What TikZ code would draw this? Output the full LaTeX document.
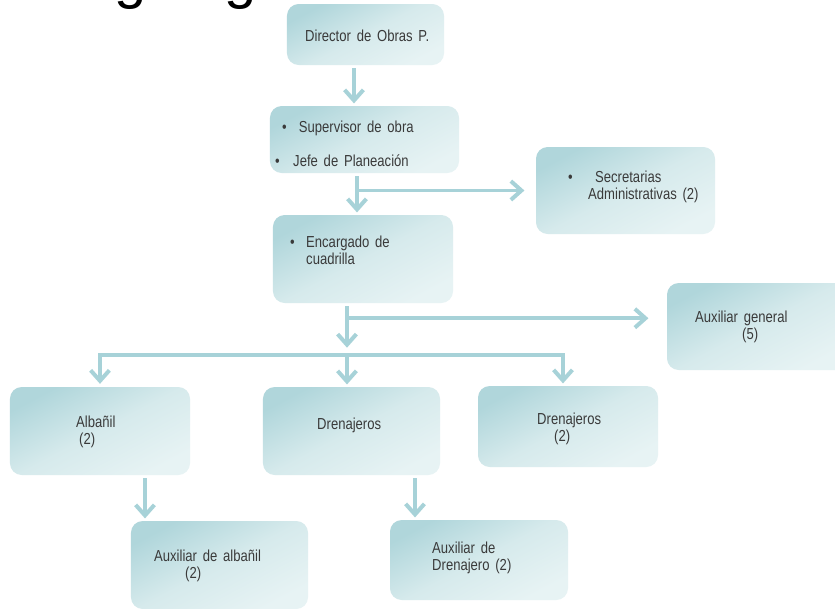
\documentclass[tikz,border=0pt]{standalone}
\usepackage{fontspec}
\setmainfont{Liberation Sans}[FakeStretch=0.82, WordSpace=1.6]
\newfontfamily\titlefont{Liberation Sans}
\usepackage{tikz}
\usetikzlibrary{arrows.meta, calc}
\definecolor{boxdark}{HTML}{B0D6DB}
\definecolor{boxmid}{HTML}{D6EAEC}
\definecolor{boxlight}{HTML}{E7F3F4}
\definecolor{linkcol}{HTML}{A7D2D8}
\definecolor{txtgray}{HTML}{3A3A3A}

\begin{document}
\begin{tikzpicture}[
        x=0.03cm, y=-0.03cm,
        barb/.tip={Straight Barb[length=9pt, width=16pt]},
        box/.style={rectangle, rounded corners=10pt, top color=boxdark, bottom color=boxlight, middle color=boxmid, shading angle=28, inner sep=0pt},
        lbl/.style={anchor=west, inner sep=0pt, align=left, text=txtgray, font=\fontsize{13.6}{14.5}\selectfont},
        link/.style={draw=linkcol, line width=3.4pt, -barb, shorten <=2.5pt, shorten >=2pt}
    ]
    \useasboundingbox (0,0) rectangle (835,608);
    \clip (0,0) rectangle (835,608);
    \fill[white] (0,0) rectangle (835,608);

    % title, cut off at the top edge
    \node[anchor=base west, inner sep=0pt, font=\titlefont\fontsize{49.5}{50}\selectfont] (title) at (50,-3) {Organigrama};

    \foreach \name/\x/\y/\w/\h in {dir/365.5/34.5/4.71/1.83, sup/364.5/139.5/5.67/2.01,
            sec/625.5/190.5/5.37/2.61, enc/363/259/5.4/2.64, aux/757/326.5/5.4/2.61,
            alb/100/431/5.4/2.64, dre/351.5/431/5.31/2.64, dre2/568/426.5/5.4/2.43,
            auxalb/219.5/565/5.31/2.64, auxdre/479/560/5.34/2.4} {
        \node[box, minimum width=\w cm, minimum height=\h cm] (\name) at (\x,\y) {};
    }

    \node[lbl] (dirl) at (305,36) {Director de Obras P.};
    \node[lbl] (supl) at (282,128) {\makebox[0.5cm][l]{•}Supervisor de obra};
    \node[lbl] (jefl) at (275,161) {\makebox[0.54cm][l]{•}Jefe de Planeación};
    \node[lbl] (secl) at (568,187) {\makebox[0.81cm][l]{•}Secretarias\\\hspace*{0.6cm}Administrativas (2)};
    \node[lbl] (encl) at (290,250) {\makebox[0.48cm][l]{•}Encargado de\\\hspace*{0.48cm}cuadrilla};
    \node[lbl] (auxl) at (695,327) {Auxiliar general\\\hspace*{1.41cm}(5)};
    \node[lbl] (albl) at (76,432) {Albañil\\\hspace*{0.09cm}(2)};
    \node[lbl] (drel) at (317,425) {Drenajeros};
    \node[lbl] (dre2l) at (537,429) {Drenajeros\\\hspace*{0.51cm}(2)};
    \node[lbl] (auxalbl) at (154,566) {Auxiliar de albañil\\\hspace*{0.93cm}(2)};
    \node[lbl] (auxdrel) at (432,558) {Auxiliar de\\Drenajero (2)};

    \coordinate (bar) at (347,355);

    \draw[link] ([xshift=-0.345cm]dir.south) -- ([xshift=-0.345cm]dir.south |- sup.north);
    \draw[link] ([xshift=-0.225cm]sup.south) -- ([xshift=-0.225cm]sup.south |- enc.north);
    \draw[link, shorten <=0pt] ([xshift=-0.225cm]sup.south |- sec.west) -- ([xshift=-0.27cm]sec.west);
    \draw[link] ([xshift=-0.48cm]enc.south) -- ([yshift=0.15cm]bar);
    \draw[link, shorten <=0pt] ([xshift=-0.48cm, yshift=-0.45cm]enc.south) -- ([xshift=-0.48cm, yshift=-0.45cm]enc.south -| aux.west);
    \draw[link, barb-barb] (alb.north) -- (alb.north |- bar) -- ([xshift=-0.15cm]dre2.north |- bar) -- ([xshift=-0.15cm]dre2.north);
    \draw[link, shorten <=0pt] (bar) -- (bar |- dre.north);
    \draw[link] ([xshift=1.35cm]alb.south) -- ([xshift=1.35cm]alb.south |- auxalb.north);
    \draw[link] ([xshift=1.905cm]dre.south) -- ([xshift=1.905cm]dre.south |- auxdre.north);
\end{tikzpicture}
\end{document}
